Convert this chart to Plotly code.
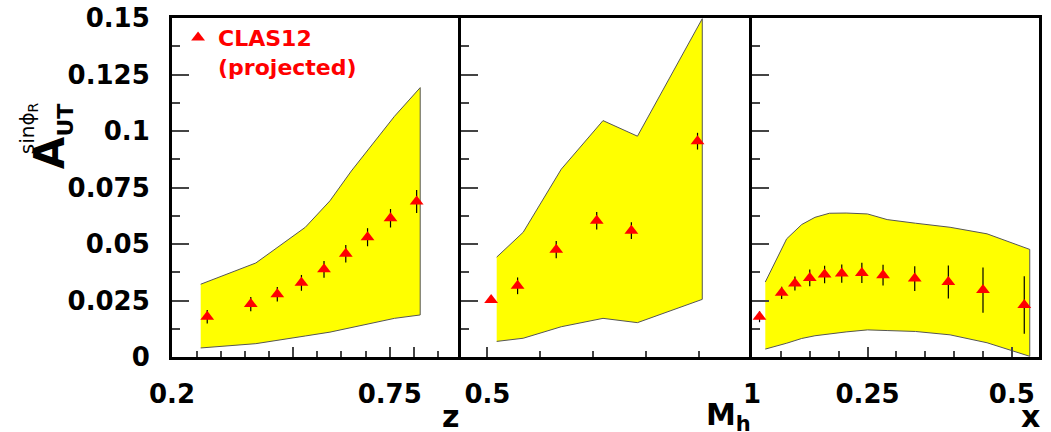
import plotly.graph_objects as go

# ---- z panel ----
z_pts = [0.289, 0.399, 0.466, 0.527, 0.584, 0.639, 0.694, 0.752, 0.818]
z_asym = [0.0178, 0.0234, 0.0278, 0.0328, 0.0388, 0.0457, 0.0530, 0.0614, 0.0688]
z_err = [0.0030, 0.0032, 0.0032, 0.0035, 0.0037, 0.0039, 0.0040, 0.0041, 0.0051]
z_band = [0.2725, 0.4118, 0.5368, 0.599, 0.653, 0.762, 0.827]
z_band_hi = [0.0322, 0.0416, 0.0574, 0.0691, 0.0823, 0.1065, 0.1192]
z_band_lo = [0.0040, 0.0059, 0.0093, 0.0110, 0.0128, 0.0171, 0.0186]

# ---- M_h panel ----
mh_pts = [0.507, 0.557, 0.630, 0.7065, 0.772, 0.897]
mh_asym = [0.0252, 0.0315, 0.0475, 0.0603, 0.0559, 0.0955]
mh_err = [0.0010, 0.0037, 0.0038, 0.0039, 0.0037, 0.0037]
mh_band = [0.5175, 0.5676, 0.6395, 0.7184, 0.7835, 0.906]
mh_band_hi = [0.0442, 0.0552, 0.0831, 0.1046, 0.0977, 0.1497]
mh_band_lo = [0.0069, 0.0083, 0.0134, 0.0171, 0.0152, 0.0255]

# ---- x panel ----
x_pts = [0.063, 0.1013, 0.1243, 0.150, 0.1757, 0.2054, 0.2402, 0.2769, 0.3318, 0.390, 0.450, 0.5215]
x_asym = [0.0178, 0.0284, 0.0325, 0.0350, 0.0365, 0.0369, 0.0372, 0.0362, 0.0347, 0.0332, 0.0296, 0.0230]
x_err = [0.0024, 0.0027, 0.0031, 0.0037, 0.0039, 0.0040, 0.0045, 0.0046, 0.0055, 0.0073, 0.0100, 0.0127]
x_band = [0.073, 0.110, 0.136, 0.159, 0.184, 0.213, 0.250, 0.284, 0.333, 0.393, 0.457, 0.531]
x_band_hi = [0.0332, 0.0523, 0.0586, 0.0618, 0.0636, 0.0637, 0.0633, 0.0608, 0.0592, 0.0574, 0.0545, 0.0476]
x_band_lo = [0.0035, 0.0061, 0.0082, 0.0094, 0.0103, 0.0111, 0.0120, 0.0117, 0.0113, 0.0098, 0.0063, 0.0003]

# axis tick labels
z_tick_vals = [0.2, 0.75, 0.506, 0.811]
z_tick_text = ["0.2", "0.75", "", ""]
mh_tick_vals = [0.5, 1.0]
mh_tick_text = ["0.5", "1"]
x_tick_vals = [0.25, 0.5]
x_tick_text = ["0.25", "0.5"]
y_tick_vals = [0, 0.025, 0.05, 0.075, 0.1, 0.125, 0.15]
y_tick_text = ["0", "0.025", "0.05", "0.075", "0.1", "0.125", "0.15"]

RED = "#FF0000"
YELLOW = "#FFFF00"
FONT = "DejaVu Sans"

panels = [
    ("x", "y", z_pts, z_asym, z_err, z_band, z_band_hi, z_band_lo),
    ("x2", "y2", mh_pts, mh_asym, mh_err, mh_band, mh_band_hi, mh_band_lo),
    ("x3", "y3", x_pts, x_asym, x_err, x_band, x_band_hi, x_band_lo),
]

fig = go.Figure()
for i, (xa, ya, px, py, pe, bx, bhi, blo) in enumerate(panels):
    fig.add_trace(go.Scatter(
        x=bx + bx[::-1], y=bhi + blo[::-1],
        fill="toself", fillcolor=YELLOW, mode="lines",
        line=dict(color="#555555", width=1),
        xaxis=xa, yaxis=ya, showlegend=False, hoverinfo="skip",
    ))
    fig.add_trace(go.Scatter(
        x=px, y=py, mode="markers",
        marker=dict(symbol="triangle-up", size=12, color=RED, line=dict(width=0)),
        error_y=dict(type="data", array=pe, color="black", thickness=1.2, width=0),
        xaxis=xa, yaxis=ya,
        name="CLAS12<br>(projected)", showlegend=(i == 0),
    ))

tickfont = dict(family=FONT, size=26, color="black", weight="bold")
TICK_COLOR = "#444444"

def xaxis_cfg(domain, rng, vals, text, minor_vals):
    return dict(
        domain=domain, range=rng,
        showline=True, linecolor="black", linewidth=3, mirror=True,
        showgrid=False, zeroline=False,
        tickmode="array", tickvals=vals, ticktext=text,
        ticks="inside", ticklen=10, tickcolor=TICK_COLOR, tickwidth=1.5,
        tickfont=tickfont, ticklabelstandoff=12,
        minor=dict(tickmode="array", tickvals=minor_vals, ticks="inside",
                   ticklen=6, tickcolor=TICK_COLOR, tickwidth=1.5),
    )

def yaxis_cfg(anchor, labels, right_edge):
    # only the last panel draws its own right-hand frame line; the others
    # share the left line of the neighbouring panel
    return dict(
        range=[0, 0.15], anchor=anchor,
        showline=True, linecolor="black", linewidth=3, mirror=right_edge,
        showgrid=False, zeroline=False,
        tickmode="array", tickvals=y_tick_vals, ticktext=y_tick_text,
        showticklabels=labels,
        ticks="inside", ticklen=17, tickcolor=TICK_COLOR, tickwidth=1.5,
        tickfont=tickfont, ticklabelstandoff=14,
        minor=dict(tickmode="array",
                   tickvals=[0.0125, 0.0375, 0.0625, 0.0875, 0.1125, 0.1375],
                   ticks="inside", ticklen=8, tickcolor=TICK_COLOR, tickwidth=1.5),
    )

z_minor = [0.262, 0.323, 0.384, 0.445, 0.567, 0.628, 0.689, 0.872]
mh_minor = [0.6, 0.7, 0.8, 0.9]
x_minor = [0.1, 0.15, 0.2, 0.3, 0.35, 0.4, 0.45]

fig.update_layout(
    width=1051, height=432,
    margin=dict(l=172, r=3, t=16, b=75),
    paper_bgcolor="white", plot_bgcolor="white",
    xaxis=xaxis_cfg([0, 0.3333], [0.2, 0.93], z_tick_vals, z_tick_text, z_minor),
    xaxis2=dict(anchor="y2", **xaxis_cfg([0.3333, 0.669], [0.45, 1.0], mh_tick_vals, mh_tick_text, mh_minor)),
    xaxis3=dict(anchor="y3", **xaxis_cfg([0.669, 1.0], [0.05, 0.547], x_tick_vals, x_tick_text, x_minor)),
    yaxis=yaxis_cfg("x", True, False),
    yaxis2=yaxis_cfg("x2", False, False),
    yaxis3=yaxis_cfg("x3", False, True),
    legend=dict(x=0.007, y=1.004, xanchor="left", yanchor="top",
                bgcolor="rgba(0,0,0,0)", valign="top",
                font=dict(family=FONT, size=22, color=RED, weight="bold"),
                itemwidth=30, tracegroupgap=0),
    showlegend=True,
)

title_font = dict(family=FONT, size=30, color="black", weight="bold")
fig.add_annotation(text="z", xref="x", yref="paper", x=0.9025, y=-0.175,
                   xanchor="center", yanchor="middle", showarrow=False, font=title_font)
fig.add_annotation(text="M<sub>h</sub>", xref="x2", yref="paper", x=0.955, y=-0.175,
                   xanchor="center", yanchor="middle", showarrow=False, font=title_font)
fig.add_annotation(text="x", xref="x3", yref="paper", x=0.532, y=-0.175,
                   xanchor="center", yanchor="middle", showarrow=False, font=title_font)

# rotated y-axis title: A_UT with sin(phi_R) superscript stacked above
fig.add_annotation(text="A<sub><span style='font-size:22px'>UT</span></sub>",
                   xref="paper", yref="paper", x=-0.139, y=0.65,
                   xanchor="center", yanchor="middle", textangle=-90, showarrow=False,
                   font=dict(family=FONT, size=42, color="black", weight="bold"))
fig.add_annotation(text="sinϕ<sub>R</sub>",
                   xref="paper", yref="paper", x=-0.166, y=0.675,
                   xanchor="center", yanchor="middle", textangle=-90, showarrow=False,
                   font=dict(family=FONT, size=20, color="black"))

fig.write_html("out.html")
